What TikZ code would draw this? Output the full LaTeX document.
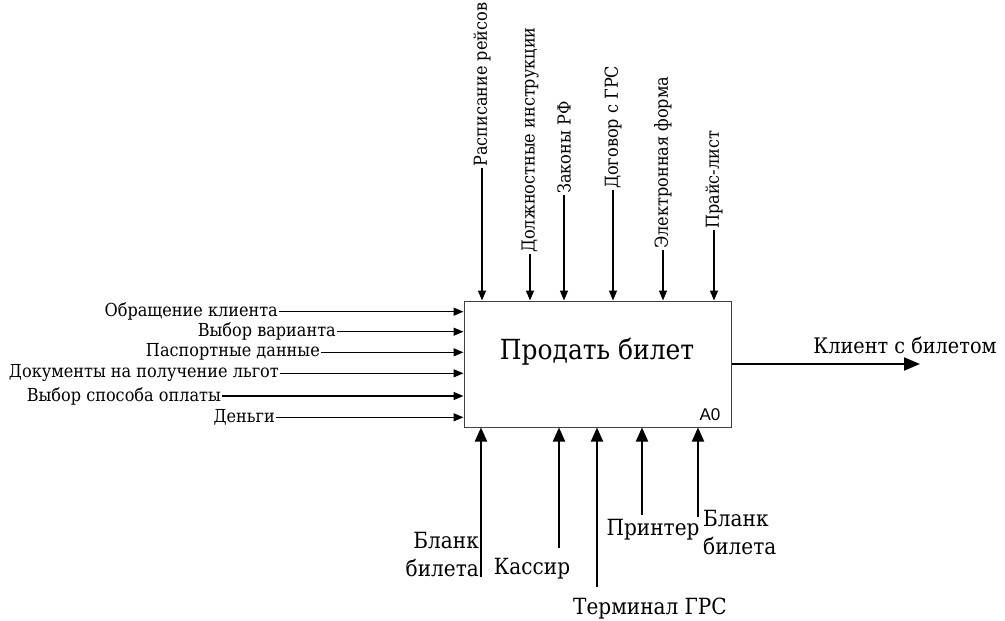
\documentclass[tikz,border=0pt]{standalone}
\usepackage{fontspec}
\setmainfont{DejaVu Serif Condensed}
\newfontfamily\tnr{DejaVu Serif Condensed}
\newfontfamily\labelsans{Liberation Sans}
\usetikzlibrary{arrows.meta}

\tikzset{
  fbox/.style={draw=black!75, line width=1pt, fill=white, minimum width=267pt,
               minimum height=126pt, inner sep=0pt},
  small/.style={font=\tnr\fontsize{17.9}{20}\selectfont, inner sep=1pt},
  big/.style={font=\tnr\fontsize{22.3}{28}\selectfont, inner sep=1pt},
  inarrow/.style={line width=1.3pt, -{Triangle[length=10pt,width=8pt]}},
  mecharrow/.style={line width=2pt, -{Triangle[length=14pt,width=12pt]}},
  outarrow/.style={line width=2pt, -{Triangle[length=16pt,width=13pt]}},
}

\begin{document}
\begin{tikzpicture}[x=1pt, y=-1pt]
  \useasboundingbox (0,0) rectangle (1005,621);

  % activity box
  \node[fbox] (box) at (597.5,364) {};
  \node[font=\tnr\fontsize{27.7}{30}\selectfont, inner sep=0pt] (title) at (597,352) {Продать билет};
  \node[font=\labelsans\fontsize{17}{19}\selectfont, inner sep=0pt] (code) at (710,415) {A0};

  % controls (top)
  \foreach \x/\y/\t [count=\i] in {
      482/168/{Расписание рейсов},
      530/254/{Должностные инструкции},
      564/195/{Законы РФ},
      613/190/{Договор с ГРС},
      663/250/{Электронная форма},
      714/230/{Прайс-лист}} {
    \node[small, rotate=90, anchor=west] (c\i) at (\x,\y) {\t};
    \draw[inarrow] (c\i.west) -- (c\i.west |- box.north);
  }

  % inputs (left)
  \foreach \x/\y/\t [count=\i] in {
      279/311.7/{Обращение клиента},
      337/331.7/{Выбор варианта},
      321/352.3/{Паспортные данные},
      280/373.3/{Документы на получение льгот},
      222/396/{Выбор способа оплаты},
      276/417.3/{Деньги}} {
    \node[small, anchor=east] (i\i) at (\x,\y) {\t};
    \draw[inarrow] (i\i.east) -- (i\i.east -| box.west);
  }

  % output (right)
  \coordinate (oend) at (920,364);
  \node[big, font=\tnr\fontsize{21.4}{27}\selectfont] (olbl) at (905,345) {Клиент с билетом};
  \draw[outarrow] (box.east |- oend) -- (oend);

  % mechanisms (bottom)
  \coordinate (m1) at (481,577);
  \coordinate (m2) at (559,548);
  \coordinate (m3) at (597,587);
  \coordinate (m4) at (642,515);
  \coordinate (m5) at (698,517);
  \foreach \i in {1,...,5} {
    \draw[mecharrow] (m\i) -- (m\i |- box.south);
  }
  \node[big, align=right, anchor=south east] (l1) at (480,578) {Бланк\\билета};
  \node[big] (l2) at (532,569) {Кассир};
  \node[big] (l3) at (650,609) {Терминал ГРС};
  \node[big] (l4) at (653,530) {Принтер};
  \node[big, align=left, anchor=north west] (l5) at (702,509) {Бланк\\билета};
\end{tikzpicture}
\end{document}
